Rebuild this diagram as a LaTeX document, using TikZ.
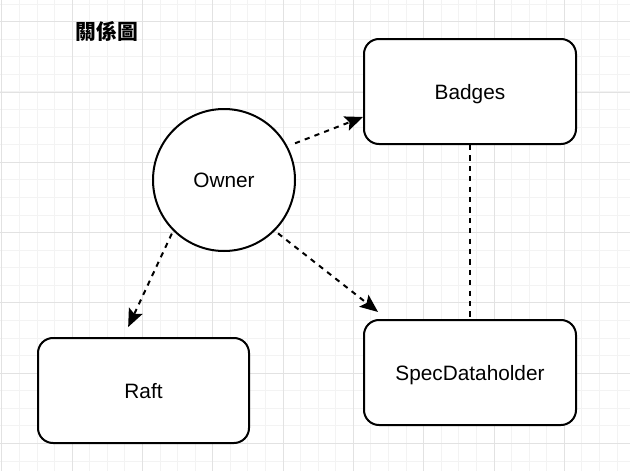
\documentclass[tikz,border=0pt]{standalone}
\usepackage{fontspec}
\setmainfont{Liberation Sans}
\newfontfamily\cjk{Noto Sans CJK TC}
\usetikzlibrary{arrows.meta}
\definecolor{minorgrid}{HTML}{F3F3F3}
\definecolor{majorgrid}{HTML}{E2E2E2}
\tikzset{
  boxnode/.style={draw=black, line width=2pt, rounded corners=15pt, fill=white,
    minimum width=212pt, minimum height=105pt, inner sep=0pt,
    font=\fontsize{20.8pt}{24pt}\selectfont, text height=15pt, text depth=0pt},
  circnode/.style={draw=black, line width=2pt, circle, fill=white,
    minimum size=142pt, inner sep=0pt,
    font=\fontsize{20.8pt}{24pt}\selectfont, text height=15pt, text depth=0pt},
  dashlink/.style={line width=2pt, dash pattern=on 5.2pt off 5.2pt},
  arrowlink/.style={dashlink, -{Stealth[length=18pt,width=15pt,inset=3.5pt]}},
}
\begin{document}
\begin{tikzpicture}[x=1pt,y=-1pt]
\useasboundingbox (0,0) rectangle (630,471);
\fill[white] (0,0) rectangle (630,471);
% grid
\foreach \gx in {1.9,19.475,...,630} \draw[minorgrid, line width=1pt] (\gx,0) -- (\gx,471);
\foreach \gy in {4.1,21.675,...,471} \draw[minorgrid, line width=1pt] (0,\gy) -- (630,\gy);
\foreach \gx in {1.9,72.2,...,630} \draw[majorgrid, line width=1pt] (\gx,0) -- (\gx,471);
\foreach \gy in {21.7,92,...,471} \draw[majorgrid, line width=1pt] (0,\gy) -- (630,\gy);
% title
\node (title) at (106.7,31.7) {\fontsize{20.8pt}{24pt}\selectfont\cjk\bfseries 關係圖};
% nodes
\node[boxnode] (badges) at (470,91.5) {Badges};
\node[boxnode] (spec) at (470,372.5) {SpecDataholder};
\node[boxnode, minimum width=211pt] (raft) at (143.5,390.5) {Raft};
\node[circnode] (owner) at (224,180) {Owner};
% connectors
\draw[arrowlink, shorten <=8pt] (owner.28) -- ([yshift=-25.5pt]badges.west);
\draw[arrowlink, shorten <=3pt, shorten >=11pt] (owner.225) -- ([xshift=-20pt]raft.north);
\draw[arrowlink, shorten <=4pt, shorten >=11.4pt] (owner.-45) -- ([xshift=-83pt]spec.north);
\draw[dashlink] (badges.south) -- (spec.north);
\end{tikzpicture}
\end{document}
